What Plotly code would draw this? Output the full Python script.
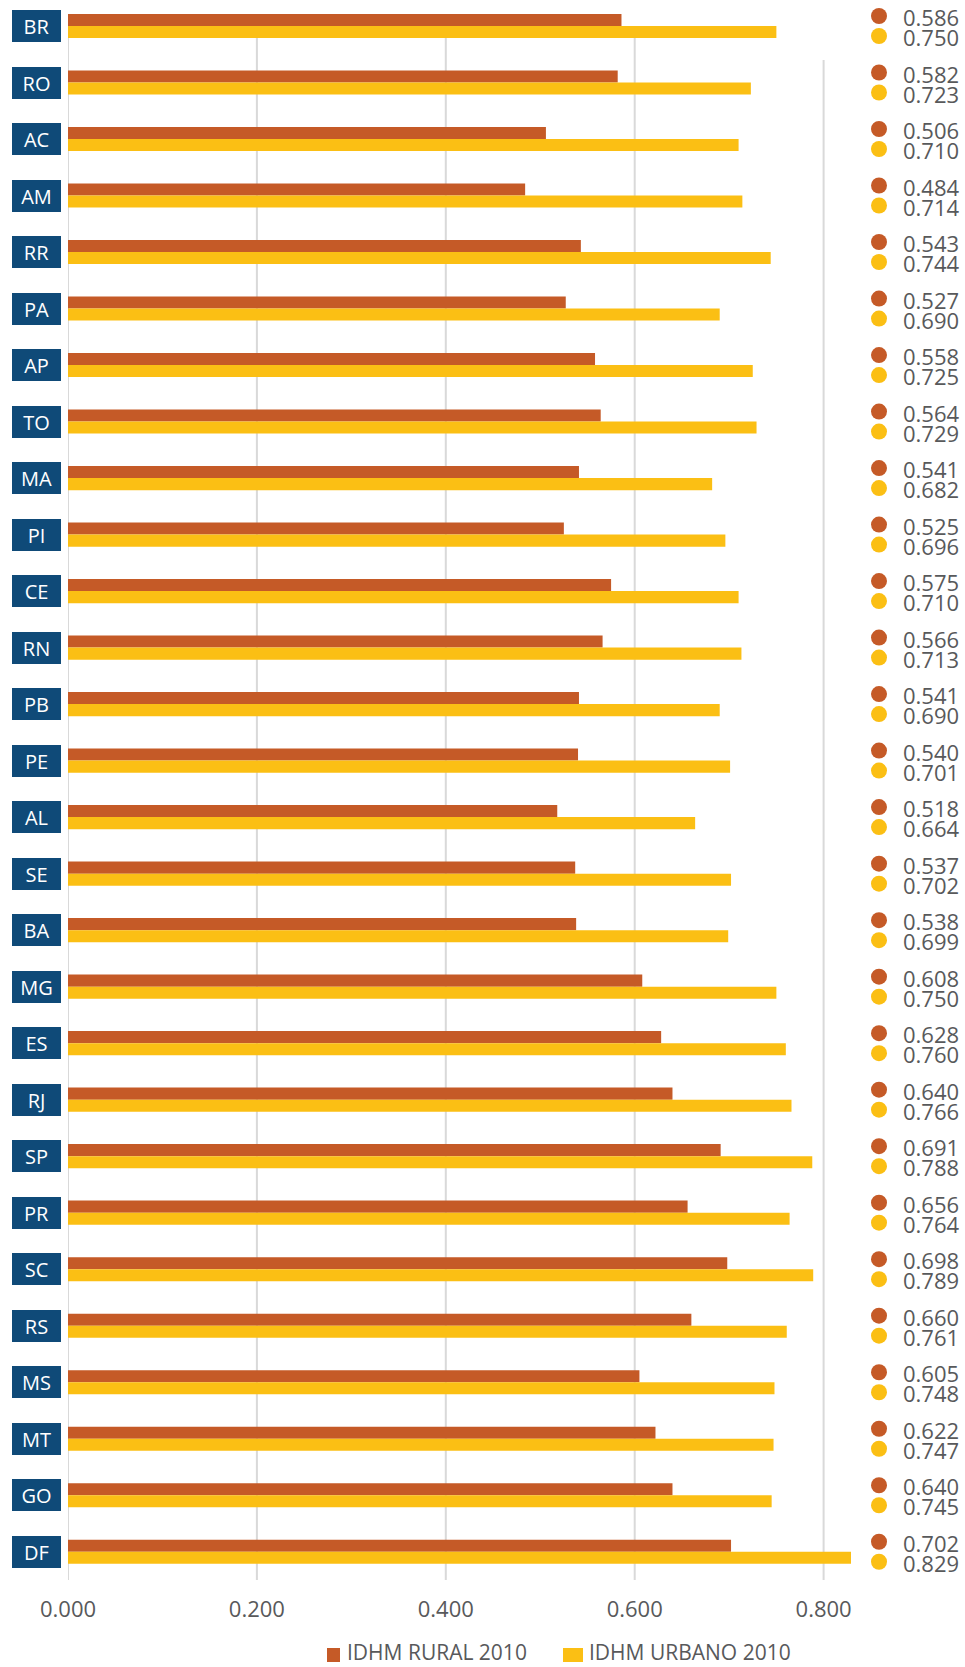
import plotly.graph_objects as go

# IDHM 2010, rural vs urban, by federative unit
states = ["BR", "RO", "AC", "AM", "RR", "PA", "AP", "TO", "MA", "PI", "CE", "RN", "PB", "PE",
          "AL", "SE", "BA", "MG", "ES", "RJ", "SP", "PR", "SC", "RS", "MS", "MT", "GO", "DF"]
idhm_rural = [0.586, 0.582, 0.506, 0.484, 0.543, 0.527, 0.558, 0.564, 0.541, 0.525, 0.575, 0.566,
              0.541, 0.540, 0.518, 0.537, 0.538, 0.608, 0.628, 0.640, 0.691, 0.656, 0.698, 0.660,
              0.605, 0.622, 0.640, 0.702]
idhm_urbano = [0.750, 0.723, 0.710, 0.714, 0.744, 0.690, 0.725, 0.729, 0.682, 0.696, 0.710, 0.713,
               0.690, 0.701, 0.664, 0.702, 0.699, 0.750, 0.760, 0.766, 0.788, 0.764, 0.789, 0.761,
               0.748, 0.747, 0.745, 0.829]
x_ticks = [0.0, 0.2, 0.4, 0.6, 0.8]
series_names = ["IDHM RURAL 2010", "IDHM URBANO 2010"]

RURAL = "#C55A27"
URBANO = "#FBBF14"
NAVY = "#0F4A78"
GREY_TXT = "#58595B"
GRID = "#D9D9D9"
FONT = "Open Sans"

W, H = 965, 1667
M_L, M_R, M_T, M_B = 68, 0, 0, 87
PLOT_W, PLOT_H = W - M_L - M_R, H - M_T - M_B
PX_PER_UNIT = 944.5            # horizontal scale of the bars
X_MAX = PLOT_W / PX_PER_UNIT
LABEL_X = (879 - M_L) / PX_PER_UNIT   # column of dots + values on the right
ROW_SHIFT = 10                 # px offset of the rural (up) / urban (down) value line
DOT_R = 8


def px_x(px):
    """page pixel x -> paper coordinate"""
    return (px - M_L) / PLOT_W


def px_y(px):
    """page pixel y (from top) -> paper coordinate"""
    return (H - M_B - px) / PLOT_H


fig = go.Figure()

for name, vals, col in [(series_names[0], idhm_rural, RURAL),
                        (series_names[1], idhm_urbano, URBANO)]:
    fig.add_trace(go.Bar(
        y=states, x=vals, orientation="h", name=name,
        marker=dict(color=col, line=dict(width=0)),
        hoverinfo="skip", showlegend=False,
    ))

# vertical grid lines
for t in x_ticks:
    top = 60 if t == x_ticks[-1] else 26
    fig.add_shape(
        type="line", xref="x", yref="paper", x0=t, x1=t, y0=0, y1=px_y(top),
        line=dict(color=GRID, width=2), layer="below",
    )

# dot + value column on the right: rural above, urban below
for sign, vals, col in [(1, idhm_rural, RURAL), (-1, idhm_urbano, URBANO)]:
    for s, v in zip(states, vals):
        c = sign * ROW_SHIFT
        fig.add_shape(
            type="circle", xref="x", yref="y",
            xsizemode="pixel", ysizemode="pixel",
            xanchor=LABEL_X, yanchor=s,
            x0=-DOT_R, x1=DOT_R, y0=c - DOT_R, y1=c + DOT_R,
            fillcolor=col, line=dict(width=0), layer="above",
        )
        fig.add_annotation(
            x=LABEL_X, xref="x", y=s, yref="y",
            xanchor="left", yanchor="middle",
            xshift=DOT_R + 14, yshift=c - 1,
            text=f"{v:.3f}", showarrow=False,
            font=dict(family=FONT, size=22, color=GREY_TXT),
        )

# state badges on the left
for s in states:
    fig.add_annotation(
        x=0, xref="x", y=s, yref="y", xanchor="right", yanchor="middle",
        xshift=-7, text=s, showarrow=False,
        width=49, height=32, bgcolor=NAVY, borderpad=0, borderwidth=0,
        align="center", valign="middle",
        font=dict(family=FONT, size=20, color="white"),
    )

# legend at the bottom
legend_items = [(series_names[0], RURAL, 327, 340, 345),
                (series_names[1], URBANO, 563, 583, 587)]
for name, col, sq0, sq1, tx in legend_items:
    fig.add_shape(
        type="rect", xref="paper", yref="paper",
        x0=px_x(sq0), x1=px_x(sq1), y0=px_y(1662), y1=px_y(1648),
        fillcolor=col, line=dict(width=0),
    )
    fig.add_annotation(
        x=px_x(tx), xref="paper", y=px_y(1652), yref="paper",
        xanchor="left", yanchor="middle", text=name, showarrow=False,
        font=dict(family=FONT, size=21, color=GREY_TXT),
    )

fig.update_layout(
    width=W, height=H,
    margin=dict(l=M_L, r=M_R, t=M_T, b=M_B, autoexpand=False),
    paper_bgcolor="white", plot_bgcolor="white",
    barmode="group", bargap=0.573, bargroupgap=0,
    font=dict(family=FONT, color=GREY_TXT),
    showlegend=False,
    xaxis=dict(
        range=[0, X_MAX], tickvals=x_ticks,
        ticktext=[f"{t:.3f}" for t in x_ticks],
        showgrid=False, zeroline=False, showline=False,
        ticks="", ticklabelstandoff=14, automargin=False,
        tickfont=dict(family=FONT, size=22, color=GREY_TXT),
        fixedrange=True,
    ),
    yaxis=dict(
        type="category", categoryorder="array", categoryarray=states,
        range=[len(states) - 0.5, -0.46], automargin=False,
        showticklabels=False, showgrid=False, zeroline=False, ticks="",
        fixedrange=True,
    ),
)

fig.write_html("out.html")
